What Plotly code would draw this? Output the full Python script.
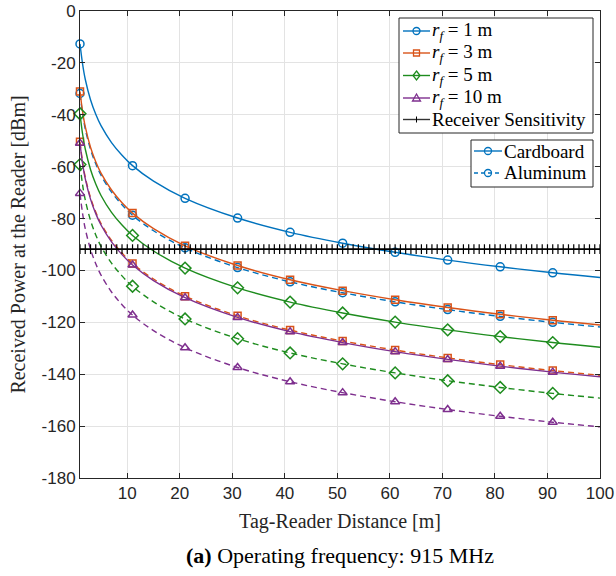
import plotly.graph_objects as go

# ---------------- data ----------------
distance = [1, 1.5, 2, 3, 4, 5, 7, 9, 11, 15, 21, 31, 41, 51, 61, 71, 81, 91, 100]
marker_at = [1, 11, 21, 31, 41, 51, 61, 71, 81, 91]

card_rf1 = [-12.7, -20.6, -26.3, -34.2, -39.8, -44.2, -50.7, -55.6, -59.6, -65.6,
            -72.2, -79.8, -85.3, -89.5, -93.0, -96.0, -98.6, -100.9, -102.7]
alu_rf1 = [-31.8, -39.7, -45.4, -53.3, -58.9, -63.3, -69.8, -74.7, -78.7, -84.7,
           -91.3, -98.9, -104.4, -108.6, -112.1, -115.1, -117.7, -120.0, -121.8]
card_rf3 = [-31.0, -38.9, -44.6, -52.5, -58.1, -62.5, -69.0, -73.9, -77.9, -83.9,
            -90.5, -98.1, -103.6, -107.8, -111.3, -114.3, -116.9, -119.2, -121.0]
alu_rf3 = [-50.4, -58.3, -64.0, -71.9, -77.5, -81.9, -88.4, -93.3, -97.3, -103.3,
           -109.9, -117.5, -123.0, -127.2, -130.7, -133.7, -136.3, -138.6, -140.4]
card_rf5 = [-39.6, -47.5, -53.2, -61.1, -66.7, -71.1, -77.6, -82.5, -86.5, -92.5,
            -99.1, -106.7, -112.2, -116.4, -119.9, -122.9, -125.5, -127.8, -129.6]
alu_rf5 = [-59.2, -67.1, -72.8, -80.7, -86.3, -90.7, -97.2, -102.1, -106.1, -112.1,
           -118.7, -126.3, -131.8, -136.0, -139.5, -142.5, -145.1, -147.4, -149.2]
card_rf10 = [-51.0, -58.9, -64.6, -72.5, -78.1, -82.5, -89.0, -93.9, -97.9, -103.9,
             -110.5, -118.1, -123.6, -127.8, -131.3, -134.3, -136.9, -139.2, -141.0]
alu_rf10 = [-70.3, -78.2, -83.9, -91.8, -97.4, -101.8, -108.3, -113.2, -117.2, -123.2,
            -129.8, -137.4, -142.9, -147.1, -150.6, -153.6, -156.2, -158.5, -160.3]

sensitivity_x = list(range(1, 101))
sensitivity_level = -91.8
sensitivity_y = [sensitivity_level] * len(sensitivity_x)

rf_labels = ["<i>r</i><sub><i>f</i></sub> = 1 m", "<i>r</i><sub><i>f</i></sub> = 3 m",
             "<i>r</i><sub><i>f</i></sub> = 5 m", "<i>r</i><sub><i>f</i></sub> = 10 m"]
sens_label = "Receiver Sensitivity"
material_labels = ["Cardboard", "Aluminum"]
x_ticks = [10, 20, 30, 40, 50, 60, 70, 80, 90, 100]
y_ticks = [0, -20, -40, -60, -80, -100, -120, -140, -160, -180]

# ---------------- styles ----------------
colors = ["#0072BD", "#D95319", "#1E8C1E", "#7E2F8E"]
symbols = ["circle-open", "square-open", "diamond-open", "triangle-up-open"]
msizes = [8, 7, 9, 8]
SERIF = "Liberation Serif, DejaVu Serif, serif"
SANS = "Liberation Sans, Arial, sans-serif"
ALU_DASH = "6px,4px"

fig = go.Figure()

series = [(card_rf1, alu_rf1), (card_rf3, alu_rf3), (card_rf5, alu_rf5), (card_rf10, alu_rf10)]
opac = [1 if d in marker_at else 0 for d in distance]

# aluminum (dashed) first, then cardboard (solid)
for style in ("alu", "card"):
    for i, (card, alu) in enumerate(series):
        yv = card if style == "card" else alu
        sizes = [msizes[i] if d in marker_at else 0 for d in distance]
        fig.add_trace(go.Scatter(
            x=distance, y=yv, mode="lines+markers", showlegend=False,
            line=dict(color=colors[i], width=1.4, shape="spline",
                      dash="solid" if style == "card" else ALU_DASH),
            marker=dict(symbol=symbols[i], size=sizes, opacity=opac,
                        color=colors[i], line=dict(color=colors[i], width=1.5)),
            cliponaxis=False,
        ))

fig.add_trace(go.Scatter(
    x=sensitivity_x, y=sensitivity_y, mode="lines+markers", showlegend=False,
    line=dict(color="black", width=1.6),
    marker=dict(symbol="line-ns-open", size=7, color="black", line=dict(color="black", width=1.2)),
    cliponaxis=False,
))

# ---------------- hand-built legends (layout only) ----------------
# plot area: screen x 80..600, y 11..478
def px(sx):
    return (sx - 80) / 520.0


def py(sy):
    return (478 - sy) / 467.0


shapes = []
annotations = []


def box(x0, y0, x1, y1):
    shapes.append(dict(type="rect", xref="paper", yref="paper", layer="above",
                       x0=px(x0), x1=px(x1), y0=py(y1), y1=py(y0),
                       fillcolor="white", line=dict(color="#262626", width=1)))


def seg(x0, x1, y, color, dash="solid", width=1.4):
    shapes.append(dict(type="line", xref="paper", yref="paper", layer="above",
                       x0=px(x0), x1=px(x1), y0=py(y), y1=py(y),
                       line=dict(color=color, width=width, dash=dash)))


def glyph(sym, sx, sy, color):
    base = dict(xref="paper", yref="paper", layer="above",
                xsizemode="pixel", ysizemode="pixel", xanchor=px(sx), yanchor=py(sy),
                fillcolor="rgba(0,0,0,0)", line=dict(color=color, width=1.3))
    if sym == "circle":
        base.update(type="circle", x0=-3.5, x1=3.5, y0=-3.5, y1=3.5)
    elif sym == "square":
        base.update(type="rect", x0=-3, x1=3, y0=-3, y1=3)
    elif sym == "diamond":
        base.update(type="path", path="M0,4.5 L3.5,0 L0,-4.5 L-3.5,0 Z")
    elif sym == "triangle":
        base.update(type="path", path="M-4,-3 L4,-3 L0,4 Z")
    elif sym == "tick":
        base.update(type="line", x0=0, x1=0, y0=-3, y1=3)
        base["line"] = dict(color=color, width=1)
    shapes.append(base)


def label(text, sx, sy, size=19):
    annotations.append(dict(text=text, xref="paper", yref="paper", x=px(sx), y=py(sy),
                            xanchor="left", yanchor="middle", showarrow=False, borderpad=0,
                            font=dict(family=SERIF, size=size, color="black")))


# legend 1
box(399, 18, 593, 133)
rows1 = [31, 53, 75.5, 98, 119.5]
gsyms = ["circle", "square", "diamond", "triangle"]
for i in range(4):
    seg(403, 430, rows1[i], colors[i])
    glyph(gsyms[i], 416.5, rows1[i], colors[i])
    label(rf_labels[i], 431, rows1[i])
seg(403, 430, rows1[4], "#333333")
glyph("tick", 416.5, rows1[4], "black")
label(sens_label, 431, rows1[4])

# legend 2
box(471, 140, 593, 187)
rows2 = [151, 173]
seg(474, 502, rows2[0], colors[0])
glyph("circle", 488, rows2[0], colors[0])
label(material_labels[0], 503, rows2[0])
seg(474, 502, rows2[1], colors[0], dash="4px,3px")
glyph("circle", 488, rows2[1], colors[0])
label(material_labels[1], 503, rows2[1])

annotations.append(dict(
    text="<b>(a)</b> Operating frequency: 915 MHz", xref="paper", yref="paper",
    x=0.5, y=py(555), xanchor="center", yanchor="middle", showarrow=False,
    font=dict(family=SERIF, size=22, color="black"),
))

axis_common = dict(
    showgrid=True, gridcolor="#e3e3e3", gridwidth=1,
    showline=True, linecolor="#262626", linewidth=1, mirror="ticks",
    ticks="inside", ticklen=5, tickcolor="#262626", tickwidth=1,
    tickfont=dict(family=SANS, size=17, color="#262626"),
    zeroline=False, automargin=False,
)

fig.update_layout(
    width=616, height=576,
    margin=dict(l=80, r=16, t=11, b=98),
    paper_bgcolor="white", plot_bgcolor="white",
    showlegend=False,
    xaxis=dict(range=[1, 100], tickvals=x_ticks, ticktext=[str(v) for v in x_ticks],
               title=dict(text="Tag-Reader Distance [m]", font=dict(family=SERIF, size=20, color="#262626"),
                          standoff=11),
               **axis_common),
    yaxis=dict(range=[-180, 0], tickvals=y_ticks, ticktext=[str(v) for v in y_ticks],
               title=dict(text="Received Power at the Reader [dBm]",
                          font=dict(family=SERIF, size=20, color="#262626"), standoff=10),
               **axis_common),
    shapes=shapes,
    annotations=annotations,
)

fig.write_html("out.html",
               config={"displayModeBar": False, "staticPlot": True},
               post_script="document.body.style.margin='0px';document.body.style.padding='0px';")
